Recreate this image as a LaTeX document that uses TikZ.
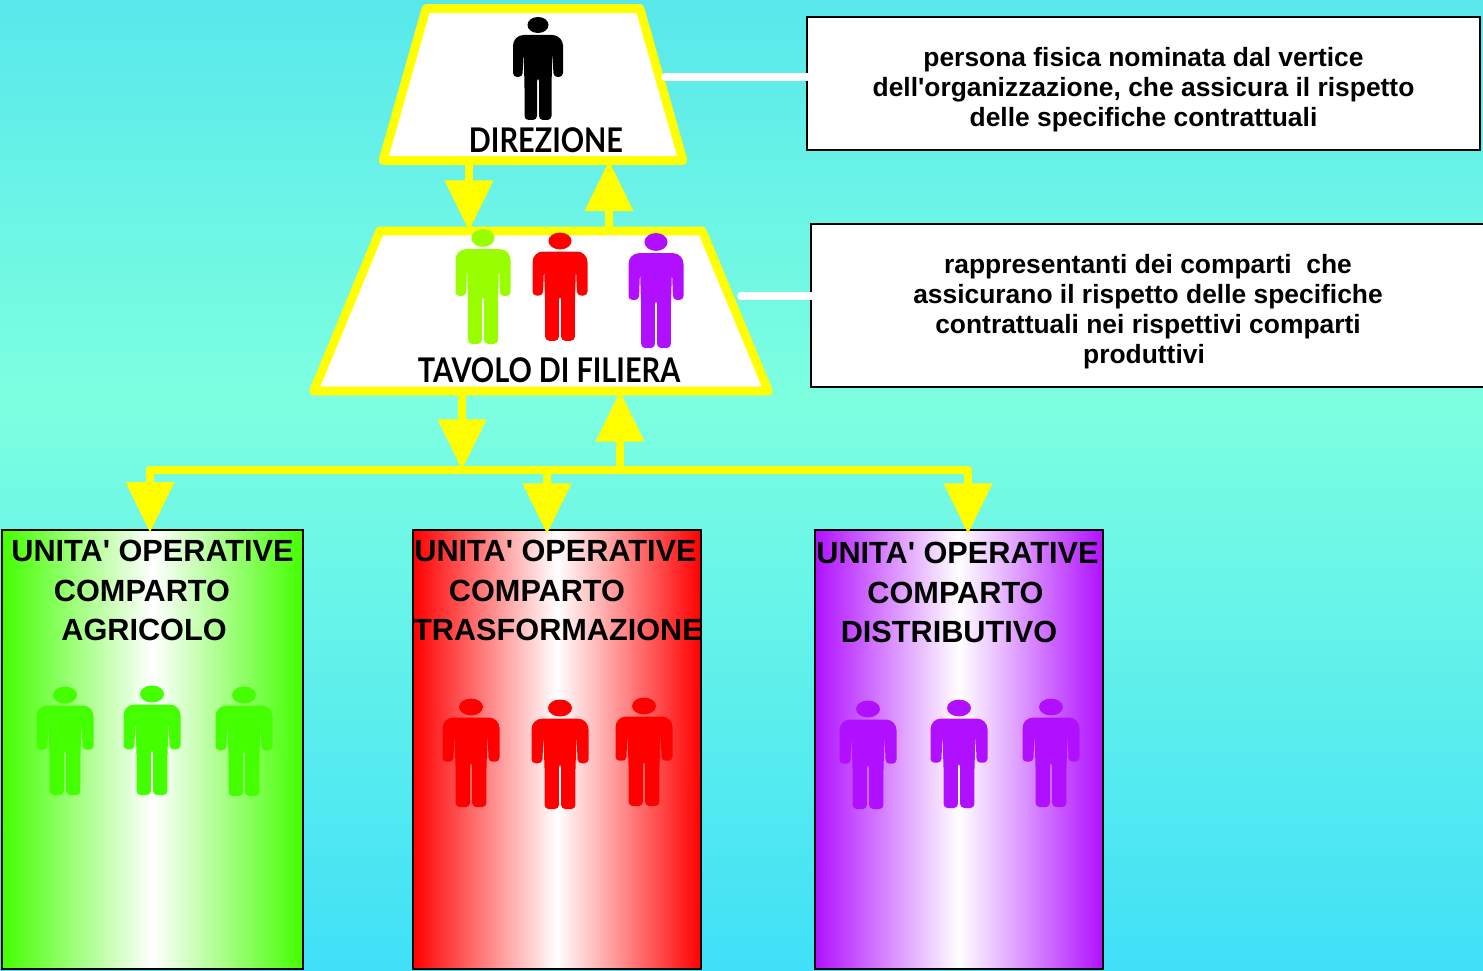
\documentclass[tikz,border=0pt]{standalone}
\usepackage{fontspec}
\setmainfont{Liberation Sans}
\newfontfamily\labelfont{Liberation Sans}
\newfontfamily\titlefont[FakeStretch=0.85]{Lato}
\usetikzlibrary{shapes.geometric,arrows.meta,positioning}

\definecolor{bandyellow}{HTML}{FFFF00}
\definecolor{skytop}{HTML}{58E8EC}
\definecolor{skymid}{HTML}{7DFFE0}
\definecolor{skylow}{HTML}{40E0F8}
\definecolor{agrigreen}{HTML}{44FF00}
\definecolor{limegreen}{HTML}{99FF00}
\definecolor{deepred}{HTML}{FF0000}
\definecolor{violet}{HTML}{B010FF}

\tikzset{
  trap/.style={trapezium,trapezium stretches=true,draw=bandyellow,fill=white,line width=6.6pt,line join=round,inner sep=2pt,outer sep=0pt},
  note/.style={draw=black,fill=white,line width=1.4pt,inner sep=0pt,outer sep=0pt,minimum height=#1},
  notetext/.style={align=center,inner sep=0pt,font=\labelfont\bfseries\fontsize{19.8}{22.5}\selectfont},
  unitbox/.style={draw=black,line width=1.5pt,inner sep=0pt,outer sep=0pt,left color=#1,right color=#1,middle color=white,minimum width=225.75pt},
  unitline/.style={font=\labelfont\bfseries\fontsize{23}{25}\selectfont,inner sep=0pt},
  title/.style={font=\titlefont\bfseries\fontsize{25.5}{27}\selectfont,inner sep=0pt},
  flow/.style={draw=bandyellow,line width=6.4pt,-{Triangle[width=35pt,length=38pt,fill=bandyellow]}},
  bus/.style={draw=bandyellow,line width=6.4pt,line cap=round},
  link/.style={draw=white,line width=5.8pt,line cap=round},
  person/.pic={
    \fill (0,0) ellipse [x radius=10.5,y radius=8];
    \fill[rounded corners=3pt] (13.5,60) -- (13.5,95) -- (1,95) -- (1,52) -- (-1,52) -- (-1,95) -- (-13.5,95) -- (-13.5,60) -- (-14.5,25)
      -- (-15.5,52) -- (-25,52) -- (-25,30) [rounded corners=8pt] -- (-25,10) -- (25,10) -- (25,30) [rounded corners=3pt]
      -- (25,52) -- (15.5,52) -- (14.5,25) -- cycle;
  }
}

\begin{document}
\begin{tikzpicture}[x=0.75pt,y=-0.75pt]
\useasboundingbox (0,0) rectangle (1483,970);

% background
\shade[top color=skytop,bottom color=skymid] (0,0) rectangle (1483,400);
\shade[top color=skymid,bottom color=skylow] (0,400) rectangle (1483,970);

% white links
\coordinate (linkdir) at (665,77);
\coordinate (linktav) at (741,296);

% boxes
\node[trap,trapezium left angle=78.6,trapezium right angle=78.6,minimum width=225pt,minimum height=114pt] (direzione) at (533,84.5) {};
\node[trap,trapezium left angle=78.4,trapezium right angle=78.4,minimum width=341pt,minimum height=120pt] (tavolo) at (541,311) {};
\node[note=100pt,minimum width=504.75pt] (notedir) at (1143.5,83.5) {};
\node[note=122.25pt,minimum width=510pt] (notetav) at (1151,305.5) {};
\node[notetext] (textdir) at (1143.5,89.5) {persona fisica nominata dal vertice\\dell'organizzazione, che assicura il rispetto\\delle specifiche contrattuali};
\node[notetext] (texttav) at (1148,311.5) {rappresentanti dei comparti\ \ che\\assicurano il rispetto delle specifiche\\contrattuali nei rispettivi comparti\\produttivi\hspace*{6pt}};

\node[unitbox=agrigreen,minimum height=329.25pt] (agricolo) at (152.5,749.5) {};
\node[unitbox=deepred,minimum width=216pt,minimum height=329.25pt] (trasf) at (557,749.5) {};
\node[unitbox=violet,minimum width=216pt,minimum height=329.25pt] (distr) at (959,749.5) {};

\draw[link] (linkdir) -- (linkdir -| notedir.west);
\draw[link] (linktav) -- (linktav -| notetav.west);

% titles
\node[title] (dirtitle) at (546,140.5) {DIREZIONE};
\node[title] (tavtitle) at (549,370.5) {TAVOLO DI FILIERA};

% arrows
\coordinate (downa) at (469,0);
\coordinate (upa) at (609,0);
\coordinate (downb) at (462,0);
\coordinate (upb) at (620,470);
\coordinate (busl) at (150,470);
\coordinate (busm) at (547,470);
\coordinate (busr) at (968,470);
\draw[flow] (direzione.south -| downa) -- (tavolo.north -| downa);
\draw[flow] (tavolo.north -| upa) -- (direzione.south -| upa);
\draw[bus] (busl) -- (busr);
\draw[flow] (tavolo.south -| downb) -- (busl -| downb);
\draw[flow] (upb) -- (tavolo.south -| upb);
\draw[flow,shorten >=-2pt] (busl) -- (agricolo.north -| busl);
\draw[flow,shorten >=-3pt] (busm) -- (trasf.north -| busm);
\draw[flow,shorten >=-3pt] (busr) -- (distr.north -| busr);

% labels of the units
\node[unitline] (agra) at (152.5,551) {UNITA' OPERATIVE};
\node[unitline] (agrb) at (142,591) {COMPARTO};
\node[unitline] (agrc) at (144,630) {AGRICOLO};
\node[unitline] (traa) at (555.5,551) {UNITA' OPERATIVE};
\node[unitline] (trab) at (537,591) {COMPARTO};
\node[unitline] (trac) at (558,630) {TRASFORMAZIONE};
\node[unitline] (disa) at (957.5,553) {UNITA' OPERATIVE};
\node[unitline] (disb) at (955.5,593) {COMPARTO};
\node[unitline] (disc) at (949,632) {DISTRIBUTIVO};

% people
\pic[black] at (538,25) {person};
\pic[limegreen,xscale=1.1,yscale=1.115] at (483,238) {person};
\pic[deepred,xscale=1.1,yscale=1.05] at (560,241) {person};
\pic[violet,xscale=1.1,yscale=1.115] at (656,242) {person};
\foreach \px/\py/\pb in {65/695/795,152/694/795,244/695/796}
  \pic[agrigreen,xscale=1.14,yscale={(\pb-\py)/95}] at (\px,\py) {person};
\foreach \px/\py/\pb in {471/707/807,560/708/809,644/706/806}
  \pic[deepred,xscale=1.14,yscale={(\pb-\py)/95}] at (\px,\py) {person};
\foreach \px/\py/\pb in {868/709/809,959/708/808,1051/707/807}
  \pic[violet,xscale=1.14,yscale={(\pb-\py)/95}] at (\px,\py) {person};
\end{tikzpicture}
\end{document}
